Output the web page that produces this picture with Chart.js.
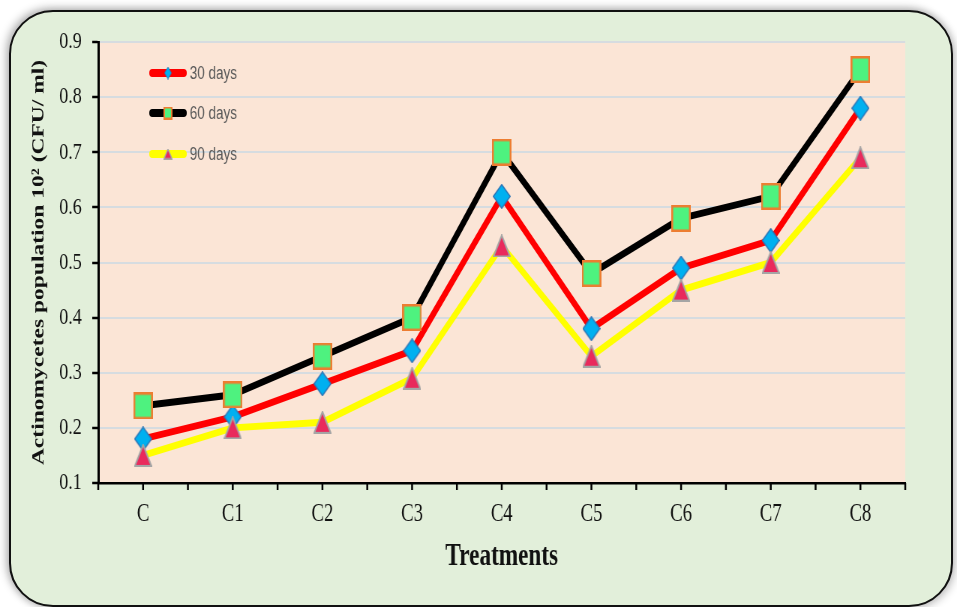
<!DOCTYPE html>
<html>
<head>
<meta charset="utf-8">
<script src="https://cdn.jsdelivr.net/npm/chart.js@4/dist/chart.umd.min.js"></script>
<style>
  html, body { margin:0; padding:0; background:#ffffff; width:957px; height:607px; overflow:hidden; }
  #frame { position:absolute; left:9px; top:10px; width:944px; height:597px; box-sizing:border-box;
           border:2px solid #111; border-radius:44px; background:#E2EFDA;
           box-shadow:-3px -2px 8px rgba(0,0,0,0.28), 3px 2px 8px rgba(0,0,0,0.2); }
  #c { position:absolute; left:0; top:0; width:1276px; height:607px; transform:scaleX(0.75); transform-origin:0 0; z-index:1; }
</style>
</head>
<body>
<div id="frame"></div>
<canvas id="c" width="1276" height="607"></canvas>
<script>
// ---- data ----
const categories = ['C', 'C1', 'C2', 'C3', 'C4', 'C5', 'C6', 'C7', 'C8'];
const days30 = [0.18, 0.22, 0.28, 0.34, 0.62, 0.38, 0.49, 0.54, 0.78];
const days60 = [0.24, 0.26, 0.33, 0.40, 0.70, 0.48, 0.58, 0.62, 0.85];
const days90 = [0.15, 0.20, 0.21, 0.29, 0.53, 0.33, 0.45, 0.50, 0.69];
const seriesLabels = ['30 days', '60 days', '90 days'];
const yTicks = [0.1, 0.2, 0.3, 0.4, 0.5, 0.6, 0.7, 0.8, 0.9];
const xTitle = 'Treatments';
const yTitle = 'Actinomycetes population 10\u00B2 (CFU/ ml)';

// ---- marker images ----
function makeMarker(type, w, h, fill, stroke, lw) {
  const c = document.createElement('canvas');
  c.width = w; c.height = h;
  const g = c.getContext('2d');
  const i = lw / 2;
  g.beginPath();
  if (type === 'diamond') {
    g.moveTo(w / 2, i); g.lineTo(w - i, h / 2); g.lineTo(w / 2, h - i); g.lineTo(i, h / 2);
  } else if (type === 'square') {
    g.rect(i, i, w - 2 * i, h - 2 * i);
  } else {
    g.moveTo(w / 2, i); g.lineTo(w - i, h - i); g.lineTo(i, h - i);
  }
  g.closePath();
  g.fillStyle = fill; g.fill();
  g.lineWidth = lw; g.strokeStyle = stroke; g.stroke();
  return c;
}
const mk = {
  diamond: makeMarker('diamond', 24, 25, '#00B0F0', '#2E75B6', 1.5),
  square: makeMarker('square', 26, 27, '#4EF27F', '#ED7D31', 2.5),
  triangle: makeMarker('triangle', 24, 23, '#E92A5C', '#A5A5A5', 2)
};
const mkSmall = {
  diamond: makeMarker('diamond', 10, 13, '#00B0F0', '#2E75B6', 1),
  square: makeMarker('square', 12, 13, '#4EF27F', '#ED7D31', 2),
  triangle: makeMarker('triangle', 12, 11, '#E92A5C', '#A5A5A5', 1.5)
};

const serif = '"Liberation Serif", "Times New Roman", serif';

const plotBg = {
  id: 'plotBg',
  beforeDraw(chart) {
    const { ctx, chartArea: a } = chart;
    ctx.save();
    ctx.fillStyle = '#FBE5D6';
    ctx.fillRect(a.left, a.top, a.right - a.left, a.bottom - a.top);
    ctx.restore();
  }
};

const xTickMarks = {
  id: 'xTickMarks',
  afterDraw(chart) {
    const { ctx } = chart;
    const xs = chart.scales.x;
    const y0 = chart.chartArea.bottom;
    const n = categories.length;
    const step = (xs.getPixelForValue(1) - xs.getPixelForValue(0));
    ctx.save();
    ctx.strokeStyle = '#000';
    ctx.lineWidth = 2.5;
    ctx.beginPath();
    for (let i = 0; i < n; i++) {
      const cx = xs.getPixelForValue(i);
      ctx.moveTo(cx, y0); ctx.lineTo(cx, y0 + 7);
      ctx.moveTo(cx - step / 2, y0); ctx.lineTo(cx - step / 2, y0 + 7);
    }
    const last = xs.getPixelForValue(n - 1) + step / 2;
    ctx.moveTo(last, y0); ctx.lineTo(last, y0 + 7);
    ctx.stroke();
    ctx.restore();
  }
};

const innerLegend = {
  id: 'innerLegend',
  afterDraw(chart) {
    const { ctx } = chart;
    const rows = [73, 113, 154];
    const smalls = [mkSmall.diamond, mkSmall.square, mkSmall.triangle];
    ctx.save();
    chart.data.datasets.forEach((ds, i) => {
      const y = rows[i];
      ctx.beginPath();
      ctx.lineCap = 'round';
      ctx.lineWidth = 8;
      ctx.strokeStyle = ds.borderColor;
      ctx.moveTo(203, y); ctx.lineTo(245, y);
      ctx.stroke();
      const im = smalls[i];
      ctx.drawImage(im, 224 - im.width / 2, y - im.height / 2);
      ctx.fillStyle = '#595959';
      ctx.font = '18px "Liberation Sans", Arial, sans-serif';
      ctx.textBaseline = 'middle';
      ctx.textAlign = 'left';
      ctx.fillText(ds.label, 253, y + 1);
    });
    ctx.restore();
  }
};

new Chart(document.getElementById('c'), {
  type: 'line',
  data: {
    labels: categories,
    datasets: [
      { label: seriesLabels[0], data: days30, borderColor: '#FF0000', borderWidth: 7, pointStyle: mk.diamond, order: 3, tension: 0 },
      { label: seriesLabels[1], data: days60, borderColor: '#000000', borderWidth: 7, pointStyle: mk.square, order: 2, tension: 0 },
      { label: seriesLabels[2], data: days90, borderColor: '#FFFF00', borderWidth: 7, pointStyle: mk.triangle, order: 1, tension: 0 }
    ]
  },
  options: {
    responsive: false,
    animation: false,
    devicePixelRatio: 1,
    layout: { padding: { left: 0, right: 69, top: 42, bottom: 24 } },
    plugins: { legend: { display: false }, tooltip: { enabled: false } },
    scales: {
      x: {
        offset: true,
        grid: { display: false, drawTicks: false },
        border: { display: true, color: '#000', width: 2.5 },
        ticks: { color: '#111', font: { family: serif, size: 25 }, padding: 16, maxRotation: 0 },
        title: { display: true, text: xTitle, color: '#111', font: { family: serif, size: 31, weight: 'bold' }, padding: { top: 0, bottom: 7 } },
        afterFit(s) { s.height = 100; }
      },
      y: {
        min: yTicks[0], max: yTicks[yTicks.length - 1],
        afterBuildTicks(s) { s.ticks = yTicks.map(v => ({ value: v })); },
        grid: { color: '#D6DCE0', lineWidth: 2, drawTicks: true, tickLength: 8, tickColor: '#000', tickWidth: 2.5 },
        border: { display: true, color: '#000', width: 3 },
        ticks: { color: '#111', font: { family: serif, size: 24 }, padding: 14, callback: v => Number(v).toFixed(1) },
        title: { display: true, text: yTitle, color: '#111', font: { family: serif, size: 23.5, weight: 'bold' }, padding: { top: 38, bottom: 0 } },
        afterFit(s) { s.width = 131; }
      }
    }
  },
  plugins: [plotBg, xTickMarks, innerLegend]
});
</script>
</body>
</html>
